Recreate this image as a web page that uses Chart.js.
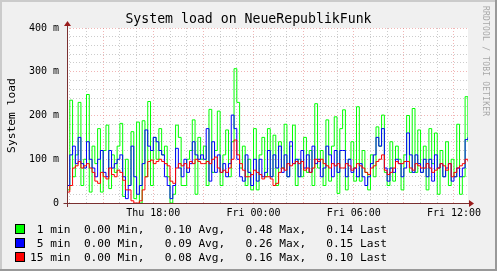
<!DOCTYPE html>
<html>
<head>
<meta charset="utf-8">
<script src="https://cdn.jsdelivr.net/npm/chart.js@4"></script>
<style>
  body { margin: 0; background: #f0f0f0; }
  #wrap { position: relative; width: 497px; height: 271px; font-family: "DejaVu Sans Mono", monospace; }
  #chart { position: absolute; left: 0; top: 0; }
  .title { position: absolute; left: 0; width: 497px; top: 11px; text-align: center; font-size: 13.2px; color: #000; }
  .mark { position: absolute; left: 481px; top: 6px; font-size: 8px; color: #a8a8a8; writing-mode: vertical-rl; letter-spacing: 0.2px; }
  .leg { position: absolute; left: 15px; font-size: 11.2px; color: #000; white-space: pre; line-height: 14px; }
  .leg span.box { display: inline-block; width: 8px; height: 8px; border: 1px solid #000; vertical-align: -1px; margin-right: 5px; }
</style>
</head>
<body>
<div id="wrap">
  <canvas id="chart" width="497" height="271"></canvas>
  <div class="title">System load on NeueRepublikFunk</div>
  <div class="mark">RRDTOOL / TOBI OETIKER</div>
  <div id="legend"></div>
</div>
<script>
// time axis in hours since Thu 00:00, one sample every 10 minutes from Thu 12:50
var startHour = 12 + 50 / 60;
var stepHour = 10 / 60;
var endHour = 36.84;
var tickHours = [18, 24, 30, 36];
var tickLabels = ['Thu 18:00', 'Fri 00:00', 'Fri 06:00', 'Fri 12:00'];
var yLabels = ['0', '100 m', '200 m', '300 m', '400 m'];

// load values in milli-load
var load1 = [30, 235, 60, 110, 230, 40, 100, 248, 25, 130, 90, 170, 25, 120, 178, 33, 110, 70, 130, 182,
  15, 100, 40, 163, 10, 185, 0, 188, 60, 232, 40, 150, 100, 170, 110, 130, 60, 0, 20, 178,
  150, 40, 40, 100, 120, 190, 20, 150, 100, 130, 40, 214, 70, 120, 210, 40, 110, 167, 60, 140,
  307, 230, 80, 130, 40, 100, 30, 170, 30, 110, 150, 60, 170, 60, 155, 40, 140, 80, 180, 60,
  130, 178, 40, 100, 60, 150, 70, 120, 40, 227, 80, 120, 40, 190, 50, 130, 197, 22, 170, 213,
  30, 100, 140, 50, 220, 50, 120, 70, 30, 110, 60, 174, 130, 201, 70, 40, 140, 50, 130, 100,
  30, 110, 200, 70, 216, 70, 167, 70, 130, 30, 170, 90, 160, 20, 120, 60, 140, 40, 100, 60,
  180, 20, 60, 243, 140];
var load5 = [40, 110, 130, 90, 150, 90, 80, 140, 100, 80, 60, 100, 120, 70, 60, 120, 80, 90, 100, 110,
  60, 10, 40, 130, 60, 20, 40, 90, 167, 130, 120, 150, 140, 120, 110, 60, 40, 10, 40, 125,
  80, 60, 100, 70, 90, 140, 110, 100, 110, 100, 170, 50, 140, 70, 110, 70, 90, 60, 90, 201,
  170, 100, 60, 50, 110, 70, 40, 100, 50, 100, 60, 70, 120, 60, 110, 80, 130, 70, 110, 60,
  140, 90, 100, 60, 120, 80, 110, 70, 130, 90, 100, 60, 80, 130, 110, 60, 120, 70, 120, 120,
  60, 100, 70, 80, 60, 90, 60, 40, 60, 90, 110, 150, 130, 170, 80, 50, 80, 70, 100, 90,
  60, 80, 160, 110, 70, 110, 90, 70, 100, 60, 100, 50, 110, 80, 90, 60, 80, 90, 50, 60,
  80, 60, 80, 145, 150];
var load15 = [25, 40, 80, 85, 95, 80, 85, 90, 80, 70, 50, 45, 70, 60, 55, 80, 65, 60, 75, 70,
  52, 30, 30, 5, 0, 0, 5, 30, 60, 95, 98, 90, 95, 100, 95, 90, 85, 50, 45, 80,
  90, 85, 90, 80, 95, 90, 100, 95, 90, 90, 95, 90, 100, 105, 80, 70, 75, 70, 80, 100,
  144, 110, 90, 75, 60, 60, 65, 75, 70, 65, 55, 60, 60, 55, 40, 45, 70, 80, 75, 90,
  85, 90, 95, 90, 95, 75, 80, 70, 80, 100, 95, 100, 90, 85, 80, 90, 85, 90, 80, 80,
  90, 85, 75, 80, 90, 85, 80, 70, 65, 80, 85, 95, 100, 110, 75, 65, 70, 80, 95, 90,
  90, 95, 95, 80, 75, 90, 85, 80, 80, 90, 80, 70, 75, 80, 90, 85, 75, 90, 60, 70,
  80, 85, 90, 100, 95];

var seriesNames = [' 1 min', ' 5 min', '15 min'];
var seriesColors = ['#00ff00', '#0000ff', '#ff0000'];
var mins = ['0.00', '0.00', '0.00'];
var avgs = ['0.10', '0.09', '0.08'];
var maxs = ['0.48', '0.26', '0.16'];
var lasts = ['0.14', '0.15', '0.10'];

function toPoints(values) {
  return values.map(function(v, i) { return {x: startHour + i * stepHour, y: v}; });
}

// legend below the chart
var legendHtml = '';
for (var i = 0; i < seriesNames.length; i++) {
  legendHtml += '<div class="leg" style="top:' + (223 + i * 14) + 'px"><span class="box" style="background:' + seriesColors[i] + '"></span>' +
    seriesNames[i] + '  ' + mins[i] + ' Min,   ' + avgs[i] + ' Avg,   ' + maxs[i] + ' Max,   ' + lasts[i] + ' Last</div>';
}
document.getElementById('legend').innerHTML = legendHtml;

var rrdFrame = {
  id: 'rrdFrame',
  beforeDraw: function(chart) {
    var ctx = chart.ctx, a = chart.chartArea;
    ctx.save();
    ctx.fillStyle = '#f0f0f0';
    ctx.fillRect(0, 0, chart.width, chart.height);
    ctx.fillStyle = '#ffffff';
    ctx.fillRect(a.left, a.top, a.right - a.left, a.bottom - a.top);
    // shaded border
    ctx.fillStyle = '#cbcbcb';
    ctx.fillRect(0, 0, chart.width, 2);
    ctx.fillRect(0, 0, 2, chart.height);
    ctx.fillStyle = '#999999';
    ctx.fillRect(0, chart.height - 2, chart.width, 2);
    ctx.fillRect(chart.width - 2, 0, 2, chart.height);
    ctx.restore();
  },
  afterDraw: function(chart) {
    var ctx = chart.ctx, a = chart.chartArea;
    var x0 = Math.round(a.left) + 0.5, y0 = Math.round(a.bottom) + 0.5;
    ctx.save();
    ctx.strokeStyle = '#7a3030';
    ctx.lineWidth = 1;
    ctx.beginPath();
    ctx.moveTo(x0 - 4, y0);
    ctx.lineTo(a.right + 1, y0);
    ctx.moveTo(x0, a.bottom + 4);
    ctx.lineTo(x0, a.top - 2);
    ctx.stroke();
    ctx.fillStyle = '#9a1c1c';
    ctx.beginPath();
    ctx.moveTo(a.right + 6, y0);
    ctx.lineTo(a.right + 1, y0 - 3.5);
    ctx.lineTo(a.right + 1, y0 + 3.5);
    ctx.closePath();
    ctx.fill();
    ctx.beginPath();
    ctx.moveTo(x0, a.top - 7);
    ctx.lineTo(x0 - 3.5, a.top - 2);
    ctx.lineTo(x0 + 3.5, a.top - 2);
    ctx.closePath();
    ctx.fill();
    ctx.restore();
  }
};

var ctx = document.getElementById('chart').getContext('2d');
var myChart = new Chart(ctx, {
  type: 'line',
  data: {
    datasets: [
      {label: '1 min', data: toPoints(load1), borderColor: seriesColors[0], order: 3},
      {label: '5 min', data: toPoints(load5), borderColor: seriesColors[1], order: 2},
      {label: '15 min', data: toPoints(load15), borderColor: seriesColors[2], order: 1}
    ]
  },
  options: {
    responsive: false,
    animation: false,
    layout: {padding: {left: 0, right: 29, top: 28, bottom: 0}},
    elements: {
      line: {borderWidth: 1, stepped: 'before', tension: 0},
      point: {radius: 0}
    },
    plugins: {legend: {display: false}, tooltip: {enabled: false}},
    scales: {
      x: {
        type: 'linear',
        min: startHour,
        max: endHour,
        afterBuildTicks: function(scale) {
          var t = [];
          for (var h = Math.ceil(startHour); h <= endHour; h++) t.push({value: h});
          scale.ticks = t;
        },
        afterFit: function(scale) { scale.height = 68; scale.paddingLeft = 0; scale.paddingRight = 0; },
        grid: {
          drawTicks: false,
          color: function(c) {
            if (!c.tick) return 'transparent';
            return c.tick.value % 3 === 0 ? 'rgba(230,120,120,0.55)' : 'rgba(170,170,170,0.6)';
          }
        },
        border: {display: false, dash: [1, 2]},
        ticks: {
          autoSkip: false,
          maxRotation: 0,
          padding: 4,
          color: '#000',
          font: {family: 'DejaVu Sans Mono', size: 10},
          callback: function(v) {
            var k = tickHours.indexOf(v);
            return k >= 0 ? tickLabels[k] : '';
          }
        }
      },
      y: {
        min: 0,
        max: 400,
        afterBuildTicks: function(scale) {
          var t = [];
          for (var v = 0; v <= 400; v += 20) t.push({value: v});
          scale.ticks = t;
        },
        afterFit: function(scale) { scale.width = 67; scale.paddingTop = 0; scale.paddingBottom = 0; },
        grid: {
          drawTicks: false,
          color: function(c) {
            if (!c.tick || c.tick.value === 0) return 'transparent';
            return c.tick.value % 100 === 0 ? 'rgba(230,120,120,0.55)' : 'rgba(170,170,170,0.6)';
          }
        },
        border: {display: false, dash: [1, 2]},
        title: {
          display: true,
          text: 'System load',
          color: '#000',
          padding: {top: 5, bottom: 0},
          font: {family: 'DejaVu Sans Mono', size: 11.3}
        },
        ticks: {
          autoSkip: false,
          padding: 8,
          color: '#000',
          font: {family: 'DejaVu Sans Mono', size: 10},
          callback: function(v) {
            return v % 100 === 0 ? yLabels[v / 100] : '';
          }
        }
      }
    }
  },
  plugins: [rrdFrame]
});
</script>
</body>
</html>
